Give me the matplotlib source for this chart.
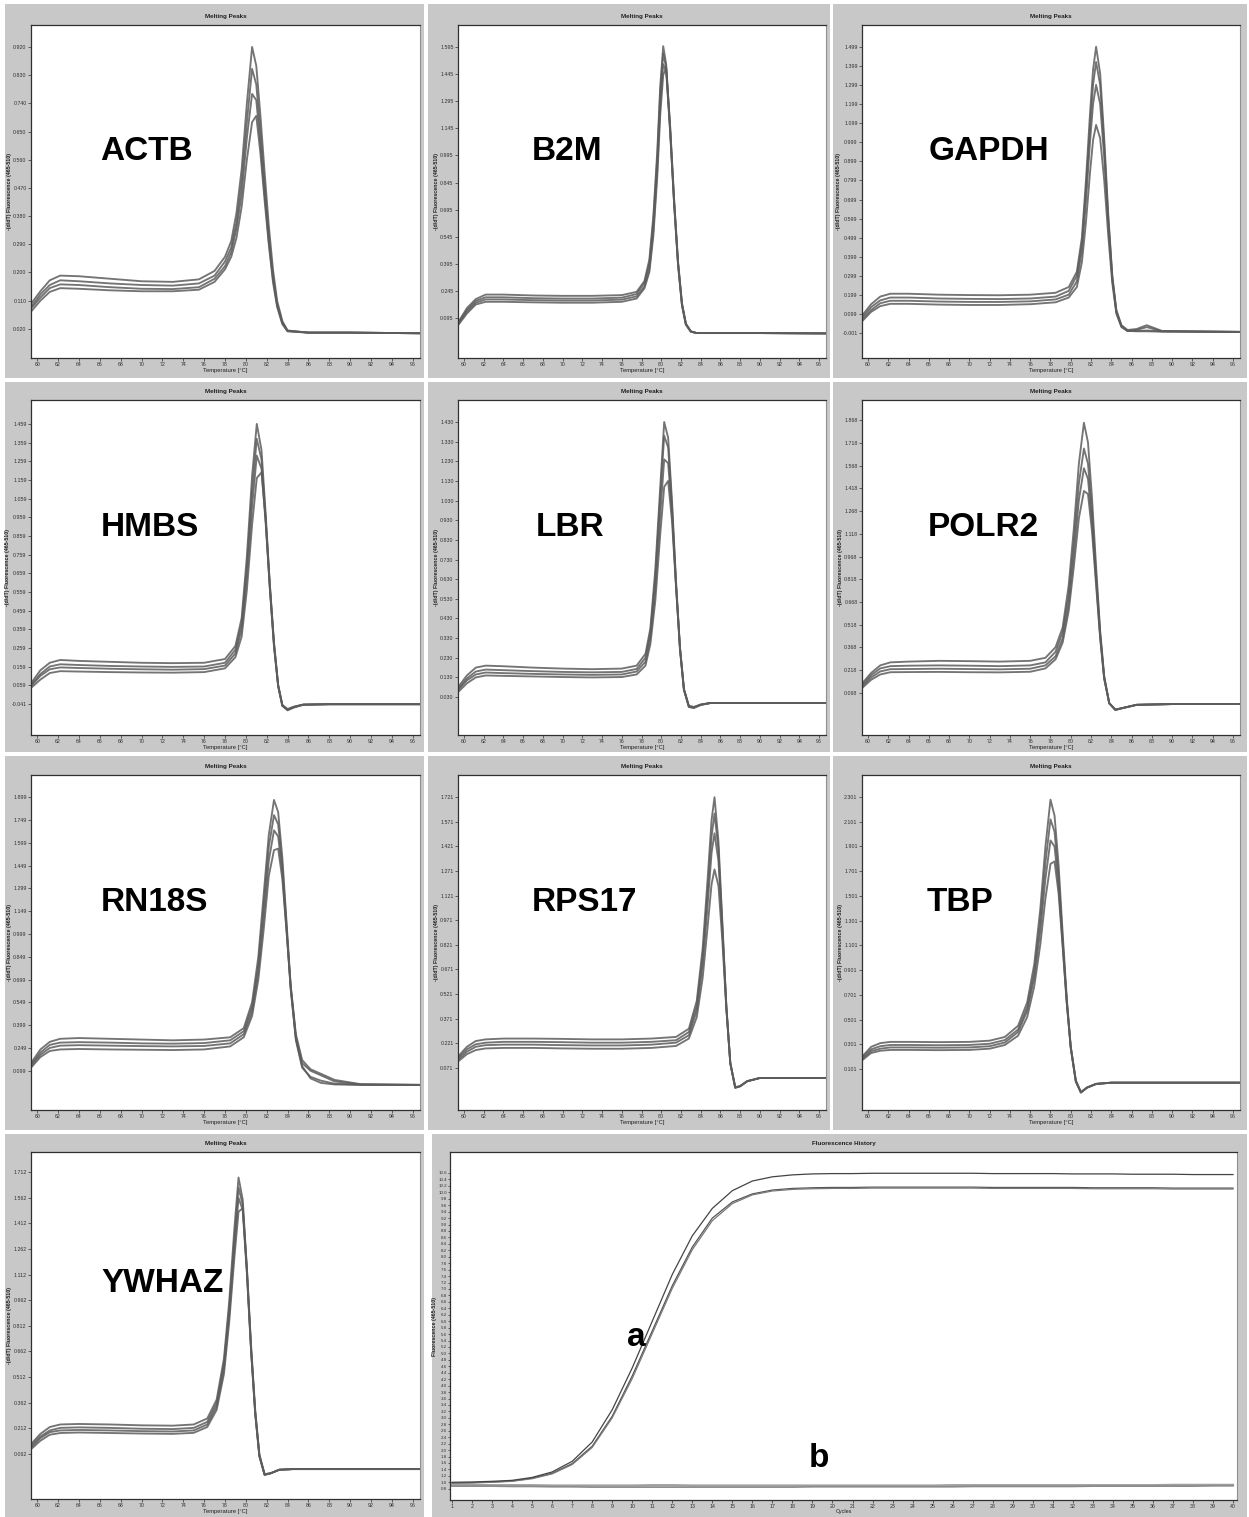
import numpy as np
import matplotlib.pyplot as plt
from matplotlib.patches import Rectangle

plt.rcParams['font.family'] = ['Liberation Sans', 'DejaVu Sans']

W, H = 1249, 1517

# ---- melting peak data: temperature grid + 4 replicate curves per gene (high -> low peak)
actb_t = [59.4, 60.3, 61.2, 62.2, 64, 67, 70, 73, 75.5, 77, 78, 78.6, 79.1, 79.6, 80.1, 80.6,
          81.0, 81.4, 81.8, 82.2, 82.6, 83.0, 83.5, 84.0, 86, 90, 96.7]
actb_curves = [
    [0.10, 0.14, 0.175, 0.19, 0.188, 0.18, 0.172, 0.17, 0.178, 0.205, 0.25, 0.30, 0.39, 0.53, 0.74, 0.92,
     0.86, 0.70, 0.52, 0.35, 0.21, 0.11, 0.045, 0.015, 0.008, 0.008, 0.006],
    [0.09, 0.13, 0.16, 0.175, 0.172, 0.165, 0.16, 0.158, 0.165, 0.19, 0.235, 0.28, 0.36, 0.49, 0.68, 0.85,
     0.80, 0.65, 0.48, 0.32, 0.19, 0.10, 0.04, 0.014, 0.008, 0.008, 0.006],
    [0.085, 0.12, 0.15, 0.162, 0.16, 0.153, 0.148, 0.147, 0.153, 0.18, 0.22, 0.265, 0.34, 0.45, 0.63, 0.77,
     0.75, 0.61, 0.45, 0.30, 0.18, 0.095, 0.038, 0.013, 0.008, 0.008, 0.006],
    [0.075, 0.11, 0.138, 0.15, 0.148, 0.143, 0.14, 0.14, 0.145, 0.17, 0.21, 0.25, 0.31, 0.41, 0.56, 0.68,
     0.70, 0.58, 0.43, 0.29, 0.17, 0.09, 0.035, 0.012, 0.008, 0.008, 0.006],
]

b2m_t = [59.4, 60.3, 61.2, 62.2, 64, 67, 70, 73, 76, 77.5, 78.3, 78.8, 79.2, 79.6, 79.9, 80.2,
         80.5, 80.9, 81.3, 81.7, 82.1, 82.5, 83.0, 83.6, 86, 90, 96.7]
b2m_curves = [
    [0.07, 0.15, 0.20, 0.225, 0.225, 0.22, 0.218, 0.218, 0.222, 0.24, 0.30, 0.42, 0.66, 1.02, 1.38, 1.60,
     1.50, 1.15, 0.74, 0.40, 0.17, 0.06, 0.02, 0.012, 0.012, 0.012, 0.01],
    [0.065, 0.14, 0.19, 0.21, 0.21, 0.205, 0.203, 0.203, 0.208, 0.228, 0.29, 0.40, 0.63, 0.98, 1.34, 1.56,
     1.48, 1.13, 0.73, 0.39, 0.165, 0.058, 0.02, 0.012, 0.012, 0.012, 0.01],
    [0.06, 0.13, 0.18, 0.198, 0.198, 0.194, 0.192, 0.192, 0.197, 0.215, 0.27, 0.37, 0.58, 0.92, 1.28, 1.50,
     1.46, 1.13, 0.74, 0.40, 0.17, 0.06, 0.02, 0.012, 0.012, 0.012, 0.01],
    [0.055, 0.12, 0.17, 0.185, 0.185, 0.182, 0.18, 0.18, 0.185, 0.203, 0.26, 0.35, 0.55, 0.88, 1.22, 1.44,
     1.48, 1.16, 0.76, 0.41, 0.18, 0.065, 0.022, 0.012, 0.012, 0.012, 0.01],
]

gapdh_t = [59.4, 60.3, 61.2, 62.2, 64, 67, 70, 73, 76, 78.5, 79.8, 80.6, 81.1, 81.5, 81.9, 82.2,
           82.5, 82.9, 83.3, 83.7, 84.1, 84.5, 85.0, 85.6, 86.5, 87.5, 89, 96.7]
gapdh_curves = [
    [0.09, 0.15, 0.19, 0.205, 0.205, 0.20, 0.198, 0.197, 0.20, 0.21, 0.24, 0.32, 0.50, 0.80, 1.15, 1.38,
     1.50, 1.36, 1.02, 0.62, 0.30, 0.12, 0.04, 0.015, 0.02, 0.04, 0.01, 0.005],
    [0.08, 0.135, 0.17, 0.185, 0.185, 0.18, 0.178, 0.177, 0.18, 0.19, 0.22, 0.30, 0.47, 0.75, 1.08, 1.30,
     1.42, 1.30, 0.98, 0.60, 0.29, 0.11, 0.035, 0.01, 0.01, 0.012, 0.008, 0.005],
    [0.07, 0.12, 0.155, 0.168, 0.168, 0.164, 0.162, 0.162, 0.165, 0.175, 0.20, 0.27, 0.43, 0.69, 1.00, 1.20,
     1.30, 1.20, 0.92, 0.57, 0.28, 0.11, 0.035, 0.01, 0.015, 0.03, 0.008, 0.005],
    [0.06, 0.11, 0.14, 0.152, 0.152, 0.148, 0.146, 0.146, 0.15, 0.16, 0.185, 0.24, 0.37, 0.58, 0.84, 1.01,
     1.09, 1.02, 0.80, 0.51, 0.26, 0.10, 0.03, 0.01, 0.008, 0.008, 0.006, 0.004],
]

hmbs_t = [59.4, 60.3, 61.2, 62.2, 64, 67, 70, 73, 76, 78, 79, 79.6, 80.1, 80.6, 81.05, 81.5,
          81.9, 82.3, 82.7, 83.1, 83.5, 84.0, 84.6, 85.5, 88, 96.7]
hmbs_curves = [
    [0.07, 0.14, 0.18, 0.195, 0.19, 0.185, 0.18, 0.178, 0.18, 0.20, 0.27, 0.42, 0.75, 1.18, 1.46, 1.32,
     0.98, 0.60, 0.28, 0.06, -0.05, -0.075, -0.06, -0.045, -0.042, -0.042],
    [0.06, 0.12, 0.16, 0.172, 0.168, 0.163, 0.16, 0.158, 0.16, 0.18, 0.25, 0.39, 0.70, 1.10, 1.38, 1.27,
     0.95, 0.58, 0.27, 0.055, -0.05, -0.072, -0.058, -0.045, -0.042, -0.042],
    [0.055, 0.11, 0.145, 0.155, 0.152, 0.148, 0.145, 0.143, 0.146, 0.165, 0.23, 0.36, 0.64, 1.02, 1.29, 1.22,
     0.93, 0.58, 0.27, 0.055, -0.05, -0.07, -0.057, -0.044, -0.042, -0.042],
    [0.045, 0.09, 0.125, 0.135, 0.133, 0.13, 0.128, 0.127, 0.13, 0.15, 0.21, 0.32, 0.57, 0.92, 1.17, 1.20,
     0.95, 0.60, 0.29, 0.06, -0.045, -0.068, -0.055, -0.044, -0.042, -0.042],
]

lbr_t = [59.4, 60.3, 61.2, 62.2, 64, 67, 70, 73, 76, 77.5, 78.4, 78.9, 79.4, 79.9, 80.3, 80.7,
         81.1, 81.5, 81.9, 82.3, 82.8, 83.3, 84, 85, 88, 96.7]
lbr_curves = [
    [0.08, 0.14, 0.18, 0.19, 0.187, 0.18, 0.175, 0.172, 0.175, 0.19, 0.25, 0.38, 0.68, 1.10, 1.43, 1.35,
     1.02, 0.62, 0.28, 0.07, -0.02, -0.025, -0.01, 0.0, 0.0, 0.0],
    [0.07, 0.125, 0.16, 0.17, 0.167, 0.162, 0.158, 0.156, 0.158, 0.173, 0.23, 0.36, 0.64, 1.05, 1.36, 1.30,
     0.99, 0.60, 0.27, 0.065, -0.02, -0.025, -0.01, 0.0, 0.0, 0.0],
    [0.065, 0.115, 0.145, 0.155, 0.152, 0.148, 0.145, 0.143, 0.145, 0.16, 0.21, 0.33, 0.58, 0.96, 1.24, 1.22,
     0.96, 0.60, 0.28, 0.07, -0.015, -0.022, -0.008, 0.0, 0.0, 0.0],
    [0.055, 0.10, 0.13, 0.14, 0.138, 0.135, 0.132, 0.13, 0.132, 0.145, 0.19, 0.30, 0.52, 0.86, 1.10, 1.13,
     0.92, 0.59, 0.28, 0.07, -0.015, -0.02, -0.008, 0.0, 0.0, 0.0],
]

polr2_t = [59.4, 60.3, 61.2, 62.2, 64, 67, 70, 73, 76, 77.5, 78.5, 79.2, 79.8, 80.3, 80.8, 81.3,
           81.7, 82.1, 82.5, 82.9, 83.3, 83.8, 84.4, 85.2, 86.5, 90, 96.7]
polr2_curves = [
    [0.13, 0.20, 0.25, 0.27, 0.275, 0.28, 0.278, 0.275, 0.28, 0.30, 0.37, 0.50, 0.78, 1.15, 1.58, 1.85,
     1.72, 1.35, 0.90, 0.48, 0.18, 0.0, -0.045, -0.03, -0.01, -0.005, -0.005],
    [0.12, 0.185, 0.23, 0.245, 0.248, 0.25, 0.248, 0.245, 0.25, 0.27, 0.34, 0.47, 0.72, 1.06, 1.45, 1.68,
     1.58, 1.26, 0.85, 0.46, 0.17, 0.0, -0.043, -0.03, -0.01, -0.005, -0.005],
    [0.11, 0.17, 0.21, 0.225, 0.226, 0.228, 0.226, 0.224, 0.228, 0.25, 0.31, 0.43, 0.66, 0.98, 1.34, 1.55,
     1.48, 1.19, 0.81, 0.44, 0.165, 0.0, -0.042, -0.03, -0.01, -0.005, -0.005],
    [0.10, 0.155, 0.19, 0.205, 0.206, 0.207, 0.205, 0.204, 0.208, 0.23, 0.29, 0.40, 0.61, 0.90, 1.22, 1.40,
     1.38, 1.13, 0.78, 0.43, 0.16, 0.0, -0.04, -0.03, -0.01, -0.005, -0.005],
]

rn18s_t = [59.4, 60.3, 61.2, 62.2, 64, 67, 70, 73, 76, 78.5, 79.8, 80.6, 81.2, 81.7, 82.2, 82.7,
           83.1, 83.5, 83.9, 84.3, 84.8, 85.4, 86.2, 87.2, 88.5, 91, 96.7]
rn18s_curves = [
    [0.15, 0.24, 0.29, 0.31, 0.315, 0.31, 0.305, 0.30, 0.305, 0.32, 0.38, 0.55, 0.85, 1.25, 1.65, 1.88,
     1.80, 1.50, 1.08, 0.66, 0.32, 0.15, 0.10, 0.07, 0.03, 0.01, 0.007],
    [0.14, 0.22, 0.27, 0.285, 0.288, 0.285, 0.28, 0.278, 0.282, 0.30, 0.36, 0.52, 0.80, 1.18, 1.57, 1.78,
     1.72, 1.45, 1.05, 0.64, 0.30, 0.12, 0.06, 0.035, 0.015, 0.008, 0.007],
    [0.13, 0.205, 0.25, 0.265, 0.268, 0.265, 0.262, 0.26, 0.263, 0.28, 0.34, 0.49, 0.75, 1.10, 1.48, 1.68,
     1.64, 1.40, 1.03, 0.64, 0.31, 0.13, 0.05, 0.02, 0.01, 0.007, 0.007],
    [0.12, 0.19, 0.23, 0.24, 0.243, 0.24, 0.238, 0.236, 0.24, 0.26, 0.32, 0.46, 0.70, 1.02, 1.38, 1.55,
     1.56, 1.36, 1.02, 0.66, 0.34, 0.17, 0.11, 0.08, 0.04, 0.012, 0.007],
]

rps17_t = [59.4, 60.3, 61.2, 62.2, 64, 67, 70, 73, 76, 79, 81.5, 82.8, 83.6, 84.2, 84.7, 85.1,
           85.4, 85.8, 86.2, 86.6, 87.0, 87.5, 88.0, 88.7, 90, 96.7]
rps17_curves = [
    [0.14, 0.20, 0.235, 0.245, 0.25, 0.25, 0.248, 0.245, 0.245, 0.25, 0.26, 0.31, 0.48, 0.80, 1.22, 1.58,
     1.72, 1.45, 0.95, 0.45, 0.10, -0.05, -0.04, -0.01, 0.01, 0.01],
    [0.13, 0.185, 0.215, 0.225, 0.23, 0.23, 0.228, 0.225, 0.225, 0.23, 0.24, 0.29, 0.45, 0.75, 1.14, 1.48,
     1.62, 1.40, 0.93, 0.44, 0.10, -0.05, -0.04, -0.01, 0.01, 0.01],
    [0.12, 0.17, 0.20, 0.21, 0.213, 0.213, 0.21, 0.208, 0.208, 0.213, 0.225, 0.27, 0.42, 0.70, 1.06, 1.38,
     1.50, 1.33, 0.90, 0.44, 0.10, -0.048, -0.04, -0.01, 0.01, 0.01],
    [0.11, 0.155, 0.18, 0.19, 0.193, 0.193, 0.19, 0.188, 0.188, 0.193, 0.205, 0.25, 0.38, 0.62, 0.93, 1.19,
     1.28, 1.18, 0.84, 0.43, 0.10, -0.045, -0.04, -0.01, 0.01, 0.01],
]

tbp_t = [59.4, 60.3, 61.2, 62.2, 64, 67, 70, 72, 73.5, 74.8, 75.7, 76.4, 77.0, 77.5, 78.0, 78.4,
         78.8, 79.2, 79.6, 80.0, 80.5, 81.0, 81.6, 82.5, 84, 90, 96.7]
tbp_curves = [
    [0.20, 0.28, 0.31, 0.32, 0.32, 0.318, 0.32, 0.33, 0.36, 0.45, 0.64, 0.95, 1.40, 1.90, 2.28, 2.15,
     1.75, 1.20, 0.68, 0.28, 0.0, -0.09, -0.05, -0.02, -0.01, -0.01, -0.01],
    [0.19, 0.26, 0.285, 0.295, 0.295, 0.293, 0.295, 0.305, 0.335, 0.42, 0.60, 0.89, 1.31, 1.77, 2.12, 2.02,
     1.66, 1.15, 0.66, 0.27, 0.0, -0.09, -0.05, -0.02, -0.01, -0.01, -0.01],
    [0.18, 0.245, 0.265, 0.275, 0.275, 0.273, 0.275, 0.285, 0.315, 0.40, 0.57, 0.84, 1.22, 1.64, 1.95, 1.90,
     1.58, 1.11, 0.64, 0.27, 0.0, -0.088, -0.05, -0.02, -0.01, -0.01, -0.01],
    [0.17, 0.23, 0.248, 0.255, 0.255, 0.253, 0.255, 0.265, 0.295, 0.37, 0.52, 0.77, 1.11, 1.48, 1.76, 1.78,
     1.52, 1.09, 0.64, 0.28, 0.01, -0.085, -0.05, -0.02, -0.01, -0.01, -0.01],
]

ywhaz_t = [59.4, 60.3, 61.2, 62.2, 64, 67, 70, 73, 75, 76.3, 77.2, 77.9, 78.4, 78.9, 79.3, 79.7,
           80.1, 80.5, 80.9, 81.3, 81.8, 82.4, 83.2, 84.5, 88, 96.7]
ywhaz_curves = [
    [0.12, 0.18, 0.22, 0.235, 0.238, 0.235, 0.23, 0.228, 0.235, 0.27, 0.38, 0.62, 0.95, 1.38, 1.68, 1.55,
     1.15, 0.68, 0.30, 0.05, -0.06, -0.05, -0.03, -0.026, -0.026, -0.026],
    [0.11, 0.165, 0.20, 0.215, 0.218, 0.215, 0.21, 0.208, 0.215, 0.25, 0.36, 0.59, 0.91, 1.32, 1.62, 1.52,
     1.13, 0.67, 0.30, 0.05, -0.06, -0.05, -0.03, -0.026, -0.026, -0.026],
    [0.10, 0.155, 0.19, 0.20, 0.203, 0.20, 0.196, 0.194, 0.20, 0.235, 0.34, 0.56, 0.87, 1.27, 1.56, 1.49,
     1.12, 0.67, 0.30, 0.05, -0.058, -0.05, -0.03, -0.026, -0.026, -0.026],
    [0.09, 0.14, 0.175, 0.185, 0.188, 0.185, 0.182, 0.18, 0.186, 0.22, 0.32, 0.53, 0.83, 1.21, 1.48, 1.50,
     1.15, 0.70, 0.32, 0.06, -0.055, -0.05, -0.03, -0.026, -0.026, -0.026],
]

# y tick labels: first value, step, count
gene_names = ['ACTB', 'B2M', 'GAPDH', 'HMBS', 'LBR', 'POLR2', 'RN18S', 'RPS17', 'TBP', 'YWHAZ']
gene_t = [actb_t, b2m_t, gapdh_t, hmbs_t, lbr_t, polr2_t, rn18s_t, rps17_t, tbp_t, ywhaz_t]
gene_curves = [actb_curves, b2m_curves, gapdh_curves, hmbs_curves, lbr_curves,
               polr2_curves, rn18s_curves, rps17_curves, tbp_curves, ywhaz_curves]
ytick_first = [0.020, 0.095, -0.001, -0.041, 0.030, 0.068, 0.099, 0.071, 0.101, 0.062]
ytick_step = [0.090, 0.150, 0.100, 0.100, 0.100, 0.150, 0.150, 0.150, 0.200, 0.150]
ytick_count = [11, 11, 16, 16, 15, 13, 13, 12, 12, 12]
ylims = [(-0.073, 0.990), (-0.126, 1.717), (-0.132, 1.614), (-0.207, 1.588), (-0.163, 1.542),
         (-0.209, 2.000), (-0.158, 2.044), (-0.185, 1.855), (-0.231, 2.479), (-0.201, 1.829)]
label_x = [0.177, 0.20, 0.175, 0.18, 0.21, 0.175, 0.18, 0.20, 0.17, 0.18]
temp_ticks = list(range(60, 97, 2))

# ---- fluorescence history
cycles = list(range(1, 41))
hist_a1 = [1.00, 1.01, 1.03, 1.06, 1.15, 1.32, 1.65, 2.25, 3.25, 4.55, 6.00, 7.45, 8.65, 9.50, 10.05,
           10.35, 10.48, 10.54, 10.57, 10.58, 10.58, 10.59, 10.59, 10.59, 10.59, 10.59, 10.59, 10.58,
           10.58, 10.58, 10.58, 10.57, 10.57, 10.57, 10.56, 10.56, 10.56, 10.55, 10.55, 10.55]
hist_a2 = [0.98, 0.99, 1.01, 1.04, 1.13, 1.28, 1.58, 2.12, 3.05, 4.30, 5.70, 7.10, 8.30, 9.20, 9.70,
           9.95, 10.07, 10.12, 10.14, 10.15, 10.15, 10.16, 10.16, 10.16, 10.16, 10.16, 10.16, 10.15,
           10.15, 10.15, 10.15, 10.15, 10.14, 10.14, 10.14, 10.14, 10.13, 10.13, 10.13, 10.13]
hist_a3 = [0.97, 0.98, 1.00, 1.03, 1.11, 1.26, 1.55, 2.08, 3.00, 4.22, 5.62, 7.02, 8.22, 9.12, 9.65,
           9.92, 10.04, 10.09, 10.11, 10.12, 10.12, 10.13, 10.13, 10.13, 10.13, 10.13, 10.13, 10.12,
           10.12, 10.12, 10.12, 10.12, 10.11, 10.11, 10.11, 10.11, 10.10, 10.10, 10.10, 10.10]
hist_b1 = [0.92, 0.92, 0.91, 0.91, 0.91, 0.90, 0.90, 0.90, 0.90, 0.90, 0.91, 0.91, 0.90, 0.90, 0.90,
           0.90, 0.90, 0.90, 0.90, 0.90, 0.90, 0.90, 0.90, 0.90, 0.90, 0.91, 0.91, 0.91, 0.91, 0.91,
           0.91, 0.91, 0.91, 0.91, 0.91, 0.91, 0.92, 0.92, 0.92, 0.92]
hist_b2 = [0.88, 0.88, 0.88, 0.87, 0.87, 0.86, 0.86, 0.85, 0.85, 0.85, 0.85, 0.85, 0.85, 0.85, 0.85,
           0.85, 0.85, 0.85, 0.86, 0.86, 0.86, 0.86, 0.86, 0.86, 0.86, 0.86, 0.87, 0.87, 0.87, 0.87,
           0.87, 0.87, 0.88, 0.88, 0.88, 0.88, 0.88, 0.88, 0.89, 0.89]
hist_yticks = [round(0.8 + 0.2 * i, 1) for i in range(50)]

PANEL_GRAY = '#c8c8c8'
CURVE = '#5c5c5c'


def fig_box(x0, y0, x1, y1):
    return [x0 / W, 1 - y1 / H, (x1 - x0) / W, (y1 - y0) / H]


def gray_panel(fig, x0, y0, x1, y1):
    l, b, w, h = fig_box(x0, y0, x1, y1)
    fig.add_artist(Rectangle((l, b), w, h, transform=fig.transFigure,
                             facecolor=PANEL_GRAY, edgecolor='none', zorder=0))


def style_axes(ax):
    ax.set_facecolor('white')
    for s in ['left', 'top', 'bottom']:
        ax.spines[s].set_color('#303030')
        ax.spines[s].set_linewidth(0.9)
    ax.spines['right'].set_color('#909090')
    ax.spines['right'].set_linewidth(0.8)
    ax.tick_params(axis='both', labelsize=3.8, length=2, width=0.5, pad=1.2,
                   colors='#303030', labelcolor='#303030')


fig = plt.figure(figsize=(W / 100, H / 100), dpi=100)
fig.patch.set_facecolor('white')

col_panel = [(5, 424), (428, 830), (833, 1247)]
col_axes = [(31, 420), (458, 826), (862, 1240)]
row_panel = [(4, 378), (382, 752), (756, 1130), (1134, 1517)]
row_axes = [(25, 358), (400, 735), (775, 1110), (1152, 1499)]

for i, name in enumerate(gene_names):
    r, c = divmod(i, 3)
    px0, px1 = col_panel[c]
    py0, py1 = row_panel[r]
    gray_panel(fig, px0, py0, px1, py1)
    ax0, ax1 = col_axes[c]
    ay0, ay1 = row_axes[r]
    ax = fig.add_axes(fig_box(ax0, ay0, ax1, ay1))
    style_axes(ax)
    for curve in gene_curves[i]:
        ax.plot(gene_t[i], curve, color=CURVE, lw=1.35, alpha=0.85, solid_joinstyle='round')
    ax.set_xlim(59.4, 96.7)
    ax.set_ylim(*ylims[i])
    ax.set_xticks(temp_ticks)
    ax.set_xticklabels([str(t) for t in temp_ticks])
    yt = [ytick_first[i] + ytick_step[i] * k for k in range(ytick_count[i])]
    ax.set_yticks(yt)
    ax.set_yticklabels(['%.3f' % v for v in yt])
    ax.set_title('Melting Peaks', fontsize=4.5, fontweight='bold', pad=5, color='#202020')
    ax.set_xlabel('Temperature [°C]', fontsize=4.2, labelpad=0.5, color='#202020')
    ax.set_ylabel('-(d/dT) Fluorescence (465-510)', fontsize=3.8, fontweight='bold',
                  labelpad=1, color='#202020')
    ax.text(label_x[i], 0.62, name, transform=ax.transAxes, fontsize=24,
            fontweight='bold', ha='left', va='center', color='black')

# fluorescence history panel spanning two columns
gray_panel(fig, 432, 1134, 1247, 1517)
axh = fig.add_axes(fig_box(450, 1152, 1237, 1500))
style_axes(axh)
for curve, lw, col in [(hist_b1, 1.6, '#a0a0a0'), (hist_b2, 1.2, '#8a8a8a'),
                       (hist_a2, 0.9, '#555555'), (hist_a3, 0.9, '#777777'),
                       (hist_a1, 0.9, '#444444')]:
    axh.plot(cycles, curve, color=col, lw=lw)
axh.set_xlim(0.9, 40.2)
axh.set_ylim(0.45, 11.25)
axh.set_xticks(cycles)
axh.set_xticklabels([str(c) for c in cycles])
axh.set_yticks(hist_yticks)
axh.set_yticklabels(['%.1f' % v for v in hist_yticks], fontsize=3.2)
axh.tick_params(axis='y', length=1.5, pad=0.8)
axh.tick_params(axis='x', pad=0.8)
axh.set_title('Fluorescence History', fontsize=4.5, fontweight='bold', pad=5, color='#202020')
axh.set_xlabel('Cycles', fontsize=4.0, labelpad=0, color='#202020')
axh.set_ylabel('Fluorescence (465-510)', fontsize=3.8, fontweight='bold', labelpad=1,
               color='#202020')
axh.text(10.2, 5.5, 'a', fontsize=24, fontweight='bold', ha='center', va='center')
axh.text(19.3, 1.75, 'b', fontsize=24, fontweight='bold', ha='center', va='center')

fig.savefig('out.png', dpi=100, facecolor='white')
